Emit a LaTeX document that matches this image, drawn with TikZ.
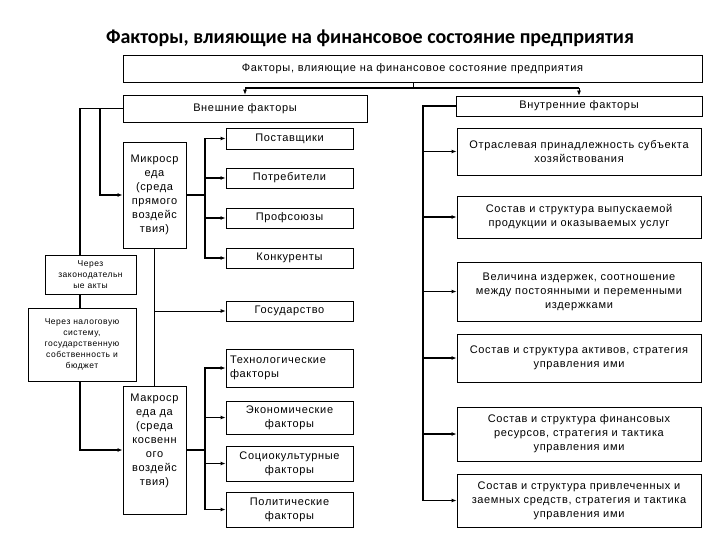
\documentclass[tikz,border=0pt]{standalone}
\usepackage{fontspec}
\setmainfont{Liberation Sans}
\newfontfamily\titlefont{Carlito}
\usetikzlibrary{arrows.meta}

\begin{document}
\begin{tikzpicture}[x=1pt, y=-1pt,
    box/.style={draw, line width=0.8pt, inner sep=1pt, align=center, font=\fontsize{11}{14}\selectfont\addfontfeature{LetterSpace=6}},
    small/.style={box, font=\fontsize{8.5}{11}\selectfont\addfontfeature{LetterSpace=6}},
    conn/.style={line width=1.4pt},
    thinconn/.style={line width=0.8pt},
    arr/.style={-{Latex[length=5pt,width=4pt]}}]

    \useasboundingbox (0,0) rectangle (720,540);

    \node[font=\titlefont\bfseries\fontsize{20}{24}\selectfont] (title) at (370,38) {Факторы, влияющие на финансовое состояние предприятия};

    \node[box, minimum width=579pt, minimum height=27pt] (top) at (412.5,68.5) {Факторы, влияющие на финансовое состояние предприятия};
    \node[box, minimum width=244pt, minimum height=27pt] (ext) at (245,108.5) {Внешние факторы};
    \node[box, minimum width=246pt, minimum height=20pt] (int) at (579,106) {Внутренние факторы};

    \node[box, minimum width=63pt, minimum height=106pt] (micro) at (154.5,195) {Микроср\\еда\\(среда\\прямого\\воздейс\\твия)};
    \node[box, minimum width=63pt, minimum height=128pt] (macro) at (154.5,450) {Макроср\\еда да\\(среда\\косвенн\\ого\\воздейс\\твия)\\[6pt]};
    \node[small, minimum width=91pt, minimum height=39pt] (law) at (90.5,274.5) {Через\\законодательн\\ые акты};
    \node[small, minimum width=108pt, minimum height=73pt] (tax) at (82,344.5) {Через налоговую\\систему,\\государственную\\собственность и\\бюджет};

    \node[box, minimum width=127pt, minimum height=21pt] (sup) at (289.5,138.5) {Поставщики};
    \node[box, minimum width=127pt, minimum height=20pt] (cons) at (289.5,178) {Потребители};
    \node[box, minimum width=127pt, minimum height=20pt] (union) at (289.5,218) {Профсоюзы};
    \node[box, minimum width=127pt, minimum height=20pt] (comp) at (289.5,258) {Конкуренты};
    \node[box, minimum width=127pt, minimum height=20pt] (state) at (289.5,311) {Государство};
    \node[box, align=left, text width=119pt, inner xsep=4pt, minimum height=38pt] (tech) at (289.5,368) {Технологические\\факторы};
    \node[box, minimum width=127pt, minimum height=33pt] (econ) at (289.5,417.5) {Экономические\\факторы};
    \node[box, minimum width=127pt, minimum height=35pt] (socio) at (289.5,463.5) {Социокультурные\\факторы};
    \node[box, minimum width=127pt, minimum height=35pt] (pol) at (289.5,509.5) {Политические\\факторы};

    \node[box, minimum width=244pt, minimum height=47pt] (r1) at (579,151.5) {Отраслевая принадлежность субъекта\\хозяйствования};
    \node[box, minimum width=244pt, minimum height=42pt] (r2) at (579,217) {Состав и структура выпускаемой\\продукции и оказываемых услуг};
    \node[box, minimum width=244pt, minimum height=59pt] (r3) at (579,291.5) {Величина издержек, соотношение\\между постоянными и переменными\\издержками};
    \node[box, minimum width=244pt, minimum height=48pt] (r4) at (579,358) {Состав и структура активов, стратегия\\управления ими};
    \node[box, minimum width=244pt, minimum height=54pt] (r5) at (579,434) {Состав и структура финансовых\\ресурсов, стратегия и тактика\\управления ими};
    \node[box, minimum width=244pt, minimum height=53pt] (r6) at (579,500.5) {Состав и структура привлеченных и\\заемных средств, стратегия и тактика\\управления ими};

    \coordinate (jn) at (413,88);
    \coordinate (lft) at (80,0);
    \coordinate (lmid) at (100,0);
    \coordinate (mr) at (205,0);
    \coordinate (rr) at (423,0);

    \draw[thinconn] (top.south -| jn) -- (jn);
    \draw[conn] (ext.north |- jn) -- (int.north |- jn);
    \draw[thinconn, arr] (ext.north |- jn) -- (ext.north);
    \draw[thinconn, arr] (int.north |- jn) -- (int.north);

    \draw[conn] (ext.west) -| (lft |- law.north);
    \draw[conn, arr] (ext.west) -- (ext.west -| lmid) |- (micro.west);
    \draw[conn] (lft |- law.south) -- (lft |- tax.north);
    \draw[conn, arr] (lft |- tax.south) |- (macro.west);

    \foreach \b in {sup,cons,union,comp}
        \draw[conn, arr] (micro.east) -- (micro.east -| mr) |- (\b.west);
    \foreach \b in {tech,econ,socio,pol}
        \draw[conn, arr] (macro.east) -- (macro.east -| mr) |- (\b.west);
    \draw[thinconn] (micro.south) -- (macro.north);
    \draw[thinconn, arr] (micro.south |- state.west) -- (state.west);

    \foreach \b in {r1,r2,r3,r4,r5,r6}
        \draw[conn, arr] (int.west) -- (int.west -| rr) |- (\b.west);

\end{tikzpicture}
\end{document}
